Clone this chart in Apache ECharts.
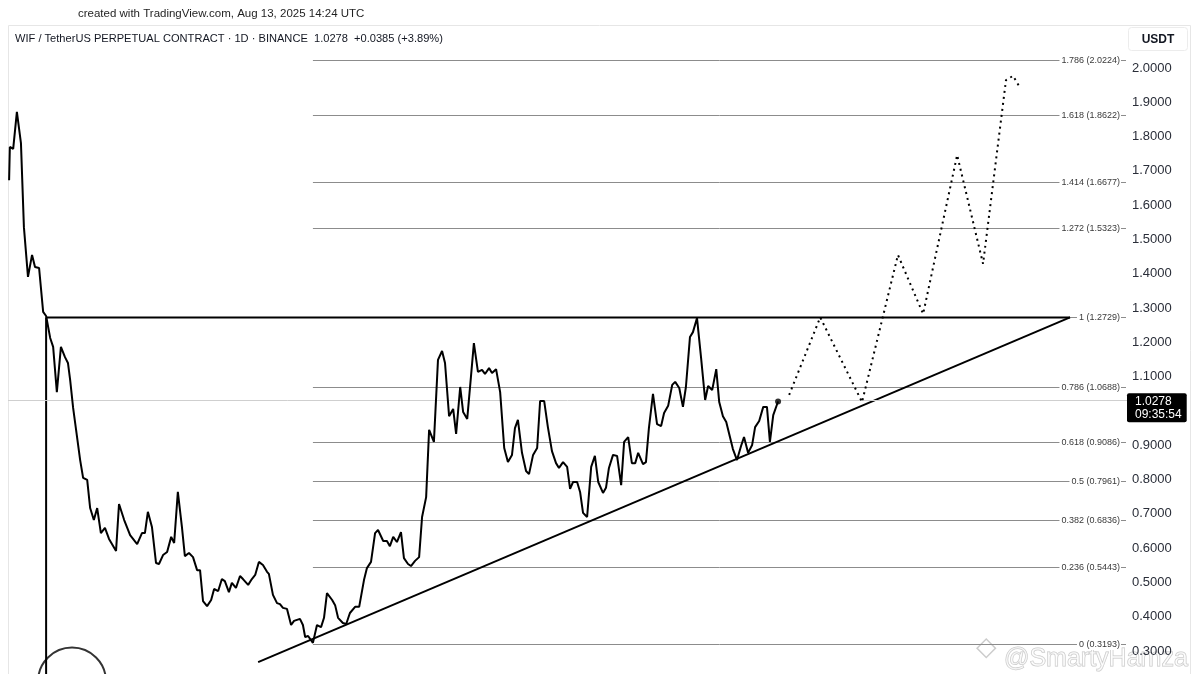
<!DOCTYPE html>
<html>
<head>
<meta charset="utf-8">
<script src="https://cdn.jsdelivr.net/npm/echarts@6/dist/echarts.min.js"></script>
<style>
html,body{margin:0;padding:0;background:#fff;}
#c{width:1200px;height:674px;}
</style>
</head>
<body>
<div id="c"></div>
<script>
// ---- data (x = day index, y = price in USDT) ----
const dayIdx = [0.3,0.5,1.4,2.4,3.5,4.3,5.4,6.5,7.3,8.4,
9.5,10.3,11.4,12.2,13.2,14.3,15.4,16.2,16.8,17.6,
18.4,19.5,20.3,21.4,22.2,23.2,24.1,25.1,26.2,27.3,
29.2,30.0,31.4,33.0,34.9,36.2,37.0,37.8,38.9,40.0,
40.8,41.9,43.0,44.1,44.9,45.9,47.0,47.8,48.9,50.0,
51.1,51.9,52.7,53.8,54.9,55.7,56.8,57.8,58.6,59.7,
60.5,61.6,62.7,63.5,64.9,65.9,66.8,67.8,68.9,70.0,
70.5,71.6,72.7,73.5,74.3,75.4,76.5,77.3,78.9,79.7,
80.3,81.1,82.4,83.5,84.6,85.4,86.2,87.6,88.4,89.2,
90.5,91.4,92.4,93.8,94.9,95.4,96.2,97.0,98.1,99.2,
100.0,101.4,102.4,103.2,104.1,105.1,106.2,107.0,108.1,108.9,
110.0,111.1,111.9,113.0,113.8,115.1,116.2,117.3,118.1,119.2,
120.3,121.1,122.2,123.0,124.1,125.1,125.9,127.0,128.1,128.9,
130.0,130.8,131.9,133.0,134.1,135.1,136.2,137.0,137.8,138.9,
140.0,140.8,141.9,143.0,143.8,144.9,145.9,147.0,148.1,148.9,
150.0,151.1,151.9,152.7,153.8,154.6,155.4,156.5,157.6,158.6,
159.5,160.8,161.6,162.4,163.5,164.6,165.7,166.5,167.6,168.6,
169.5,170.3,171.6,172.4,173.2,174.3,175.4,176.5,177.3,178.4,
179.5,180.3,181.4,182.4,183.2,184.3,185.1,186.2,187.3,188.4,
189.2,190.3,191.4,192.2,193.2,194.1,195.1,195.9,197.0,198.1,
198.9,200.0,201.1,201.9,203.0,204.1,205.1,205.9,206.8,208.1];
const price = [1.673,1.770,1.764,1.872,1.781,1.536,1.391,1.455,1.420,1.417,
1.289,1.277,1.213,1.187,1.055,1.187,1.157,1.140,1.090,1.009,
0.945,0.857,0.805,0.799,0.717,0.682,0.717,0.644,0.659,0.627,
0.592,0.729,0.682,0.638,0.612,0.644,0.644,0.706,0.662,0.557,
0.554,0.580,0.589,0.633,0.615,0.764,0.662,0.577,0.586,0.574,
0.536,0.536,0.446,0.431,0.449,0.481,0.475,0.510,0.504,0.472,
0.499,0.484,0.519,0.510,0.493,0.510,0.522,0.560,0.551,0.531,
0.525,0.464,0.440,0.437,0.426,0.423,0.376,0.388,0.394,0.376,
0.341,0.344,0.324,0.376,0.370,0.397,0.469,0.449,0.434,0.397,
0.382,0.379,0.411,0.429,0.429,0.431,0.507,0.542,0.560,0.644,
0.653,0.621,0.621,0.606,0.633,0.618,0.647,0.571,0.554,0.548,
0.563,0.574,0.691,0.749,0.945,0.910,1.149,1.175,1.140,0.985,
1.006,0.933,1.070,0.997,0.977,1.099,1.198,1.114,1.120,1.108,
1.125,1.111,1.122,1.055,0.892,0.851,0.872,0.950,0.974,0.878,
0.825,0.816,0.872,0.892,1.029,1.029,0.953,0.883,0.848,0.834,
0.851,0.837,0.773,0.793,0.793,0.764,0.703,0.691,0.837,0.869,
0.793,0.761,0.776,0.834,0.872,0.869,0.784,0.910,0.924,0.848,
0.848,0.878,0.845,0.851,0.950,1.050,0.962,0.956,0.994,1.015,
1.076,1.085,1.067,1.012,1.070,1.216,1.230,1.271,1.155,1.032,
1.073,1.061,1.122,1.026,0.985,0.968,0.924,0.889,0.857,0.898,
0.924,0.878,0.901,0.953,0.971,1.012,1.012,0.910,0.988,1.0278];

// projected path (dotted)
const projDay   = [211.1,219.5,230.8,240.5,247.3,256.5,263.5,269.7,271.6,273.2];
const projPrice = [1.047,1.273,1.026,1.455,1.283,1.746,1.429,1.965,1.977,1.948];

// fibonacci levels
const fibRatios = ['1.786','1.618','1.414','1.272','1','0.786','0.618','0.5','0.382','0.236','0'];
const fibValues = [2.0224,1.8622,1.6677,1.5323,1.2729,1.0688,0.9086,0.7961,0.6836,0.5443,0.3193];
const fibStartDay = 82.4;

// right price-scale tick labels
const yTickValues = [0.3,0.4,0.5,0.6,0.7,0.8,0.9,1.0,1.1,1.2,1.3,1.4,1.5,1.6,1.7,1.8,1.9,2.0];

// drawn annotations
const resistanceLevel = 1.2729;
const resistanceDays = [10.3, 287.0];
const verticalDay = 10.3;
const trendDays = [67.6, 287.0];
const trendPrices = [0.268, 1.2729];
const circleMark = [17.3, 0.211];

const lastPrice = 1.0278;
const countdown = '09:35:54';
const Y_MIN = 0.2332, Y_MAX = 2.1254;
const X_MIN = 0, X_MAX = 302.4;

const FONT = '"Liberation Sans", Arial, sans-serif';
const chart = echarts.init(document.getElementById('c'), null, {renderer:'canvas'});

const mainData = dayIdx.map((d,i)=>[d, price[i]]);
const projData = projDay.map((d,i)=>[d, projPrice[i]]);

chart.setOption({
  animation:false,
  backgroundColor:'#ffffff',
  grid:{left:8, right:73, top:25, bottom:0, containLabel:false, outerBoundsMode:'none'},
  xAxis:{type:'value', min:X_MIN, max:X_MAX, show:false},
  yAxis:{type:'value', position:'right', min:Y_MIN, max:Y_MAX,
    axisLine:{show:false}, axisTick:{show:false}, splitLine:{show:false},
    axisLabel:{margin:5, color:'#2a2e39', fontSize:13, fontFamily:FONT,
      customValues: yTickValues,
      formatter:function(v){ return v.toFixed(4); }}
  },
  series:[
    { // fib levels
      type:'custom', z:1, silent:true, clip:false,
      data: fibValues.map((v,i)=>[i, v]),
      renderItem:function(params, api){
        const v = api.value(1);
        const p1 = api.coord([fibStartDay, v]);
        const p2 = api.coord([X_MAX, v]);
        const i = params.dataIndex;
        const yy = Math.round(p1[1])+0.5;
        return {type:'group', children:[
          {type:'line', shape:{x1:p1[0], y1:yy, x2:p2[0]-1, y2:yy},
           style:{stroke:'#8c8c8c', lineWidth:1}},
          {type:'text', x:p2[0]-6, y:yy,
           style:{text: fibRatios[i] + ' (' + fibValues[i].toFixed(4) + ')', align:'right', verticalAlign:'middle',
             fill:'#3a3a3a', font:'9px ' + FONT, backgroundColor:'#ffffff', padding:[1,1,1,2]}}
        ]};
      }
    },
    { // main price line
      type:'line', z:5, data: mainData, symbol:'none', silent:true,
      lineStyle:{color:'#000', width:2},
      markLine:{
        silent:true, symbol:['none','none'],
        lineStyle:{color:'#cfcfcf', width:1, type:'solid'},
        label:{show:true, position:'end', distance:0, offset:[0,7], formatter: lastPrice.toFixed(4) + '\n' + countdown,
          color:'#fff', backgroundColor:'#000', fontSize:12, lineHeight:13, fontFamily:FONT,
          padding:[2,5,1,8], align:'left', borderRadius:2},
        data:[{yAxis:lastPrice}]
      }
    },
    { // last point dot
      type:'scatter', z:6, silent:true, data:[[dayIdx[dayIdx.length-1], lastPrice]],
      symbolSize:6, itemStyle:{color:'#000'}
    },
    { // projection
      type:'line', z:5, data: projData, symbol:'none', silent:true,
      lineStyle:{color:'#000', width:2, type:[2,4]}
    },
    { // resistance horizontal
      type:'line', z:4, silent:true, symbol:'none',
      data: resistanceDays.map(d=>[d, resistanceLevel]),
      lineStyle:{color:'#000', width:2}
    },
    { // vertical from resistance
      type:'line', z:4, silent:true, symbol:'none',
      data: [[verticalDay, resistanceLevel],[verticalDay, Y_MIN]],
      lineStyle:{color:'#000', width:2}
    },
    { // rising trendline
      type:'line', z:4, silent:true, symbol:'none',
      data: trendDays.map((d,i)=>[d, trendPrices[i]]),
      lineStyle:{color:'#000', width:2}
    },
    { // circle annotation
      type:'scatter', z:4, silent:true, data:[circleMark], symbol:'circle', symbolSize:68, clip:false,
      itemStyle:{color:'rgba(0,0,0,0)', borderColor:'#000', borderWidth:2}
    }
  ],
  graphic:[
    {type:'text', left:78, top:8, z:10,
     style:{text:'created with TradingView.com, Aug 13, 2025 14:24 UTC', fill:'#1f1f1f', font:'11.5px ' + FONT}},
    {type:'rect', shape:{x:8.5, y:25.5, width:1182, height:660}, z:-1,
     style:{fill:'none', stroke:'#e6e6e6', lineWidth:1}},
    {type:'text', left:15, top:33, z:10,
     style:{text:'WIF / TetherUS PERPETUAL CONTRACT · 1D · BINANCE  1.0278  +0.0385 (+3.89%)', fill:'#131722', font:'11.1px ' + FONT}},
    {type:'rect', shape:{x:1128.5, y:27.5, width:59, height:23, r:3}, z:10,
     style:{fill:'#fff', stroke:'#ececec', lineWidth:1}},
    {type:'text', x:1158, y:39.5, z:11,
     style:{text:'USDT', align:'center', verticalAlign:'middle', fill:'#131722', font:'bold 12px ' + FONT}},
    {type:'group', left:976, top:638, z:20, children:[
      {type:'rect', shape:{x:0, y:0, width:13, height:13}, rotation:Math.PI/4, x:12, y:2,
       style:{fill:'rgba(255,255,255,0.5)', stroke:'#cccccc', lineWidth:1.5}},
      {type:'text', x:39, y:13,
       style:{text:'@SmartyHamza', verticalAlign:'middle', fill:'rgba(255,255,255,0.55)', stroke:'#c6c6c6', lineWidth:1, font:'25px ' + FONT}}
    ]}
  ]
});
</script>
</body>
</html>
